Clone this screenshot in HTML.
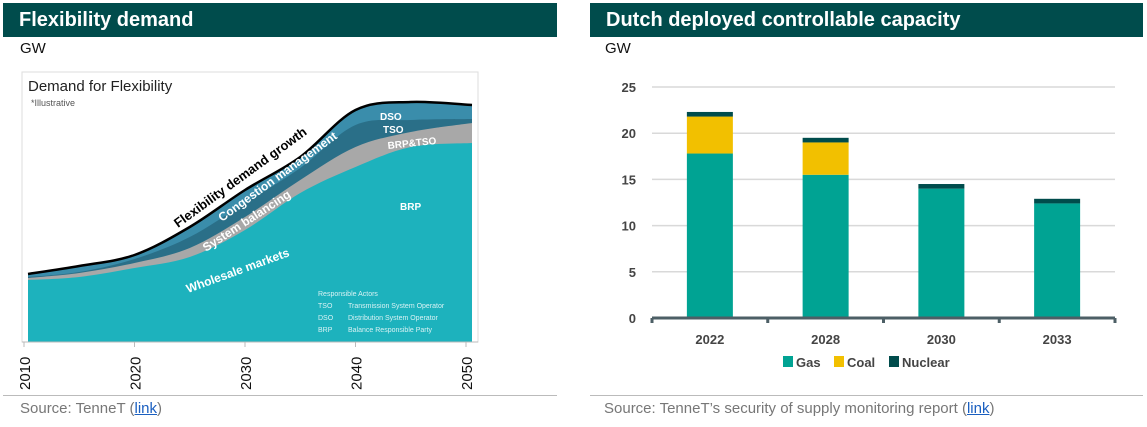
<!DOCTYPE html>
<html><head><meta charset="utf-8">
<style>
body{margin:0;width:1147px;height:427px;background:#fff;overflow:hidden;font-family:"Liberation Sans",sans-serif;position:relative}
.hdr{position:absolute;top:3px;height:34px;background:#004c4c;color:#fff;font-weight:bold;font-size:20px;line-height:34px;padding-left:16px;box-sizing:border-box}
.gw{position:absolute;top:40px;font-size:15px;color:#111}
.rule{position:absolute;top:395px;height:1px;background:#bbb}
.src{position:absolute;top:400px;font-size:15px;color:#777}
.src a{color:#1a5fc0;text-decoration:underline}
svg{position:absolute;left:0;top:0}
</style></head><body>
<div class="hdr" style="left:3px;width:554px">Flexibility demand</div>
<div class="hdr" style="left:590px;width:553px">Dutch deployed controllable capacity</div>
<div class="gw" style="left:20px">GW</div>
<div class="gw" style="left:605px">GW</div>
<div class="rule" style="left:3px;width:554px"></div>
<div class="rule" style="left:590px;width:553px"></div>
<div class="src" style="left:20px">Source: TenneT (<a>link</a>)</div>
<div class="src" style="left:604px">Source: TenneT’s security of supply monitoring report (<a>link</a>)</div>

<svg id="left" width="590" height="395">
<rect x="22" y="72" width="456" height="270" fill="#fff" stroke="#ddd"/>
<text x="28" y="91" font-size="15" fill="#222">Demand for Flexibility</text>
<text x="31" y="106" font-size="9" fill="#555">*Illustrative</text>
<g id="areas"></g>
<g id="xt"></g>
<text transform="translate(178,228) rotate(-36)" font-size="13" font-weight="bold" fill="#000">Flexibility demand growth</text>
<text transform="translate(222,222) rotate(-36)" font-size="12" font-weight="bold" fill="#fff">Congestion management</text>
<text transform="translate(206,252) rotate(-33)" font-size="12" font-weight="bold" fill="#fff">System balancing</text>
<text transform="translate(188,293) rotate(-20)" font-size="12" font-weight="bold" fill="#fff">Wholesale markets</text>
<text x="380" y="120" font-size="10" font-weight="bold" fill="#fff">DSO</text>
<text x="383" y="133" font-size="10" font-weight="bold" fill="#fff">TSO</text>
<text x="388" y="149" font-size="10" font-weight="bold" fill="#fff" transform="rotate(-6 388 149)">BRP&amp;TSO</text>
<text x="400" y="210" font-size="10" font-weight="bold" fill="#fff">BRP</text>
<g font-size="7" fill="#d8f2f4">
<text x="318" y="296">Responsible Actors</text>
<text x="318" y="308">TSO</text><text x="348" y="308">Transmission System Operator</text>
<text x="318" y="320">DSO</text><text x="348" y="320">Distribution System Operator</text>
<text x="318" y="332">BRP</text><text x="348" y="332">Balance Responsible Party</text>
</g>
</svg>

<svg id="right" width="1147" height="395" style="left:0">
<g id="grid"></g><g id="bars"></g><g id="axis"></g>
<g id="legend" font-size="13" font-weight="bold" fill="#444"></g>
</svg>

<script>
// ---- Left chart data (illustrative units) ----
const years=[2010,2015,2020,2025,2030,2035,2040,2045,2050];
const brp=[62,65,74,85,112,149,175,195,199];
const brpTso=[2,4,5,9,13,13,20,15,20];
const tso=[1,1,4,11,14,12,22,12,4];
const dso=[3,6,4,10,13,11,15,18,14];
const xTicks=[2010,2020,2030,2040,2050];

const NS='http://www.w3.org/2000/svg';
function mk(tag,attrs,parent){const e=document.createElementNS(NS,tag);for(const k in attrs)e.setAttribute(k,attrs[k]);parent.appendChild(e);return e;}
const lx=y=>24+(y-2010)/40*442;
const ly=v=>342-v;
function smooth(pts){let d='M'+pts[0][0]+','+pts[0][1];for(let i=0;i<pts.length-1;i++){const p0=pts[i-1]||pts[i],p1=pts[i],p2=pts[i+1],p3=pts[i+2]||p2;d+=' C'+(p1[0]+(p2[0]-p0[0])/6)+','+(p1[1]+(p2[1]-p0[1])/6)+' '+(p2[0]-(p3[0]-p1[0])/6)+','+(p2[1]-(p3[1]-p1[1])/6)+' '+p2[0]+','+p2[1];}return d;}
const ag=document.getElementById('areas');
const layers=[[brp,'#1db2bd','area-brp'],[brpTso,'#a8a8a8','area-brp-tso'],[tso,'#2a6f88','area-tso'],[dso,'#3a8dab','area-dso']];
const cum=years.map(()=>0);
const tops=[];
layers.forEach(([arr])=>{arr.forEach((v,i)=>cum[i]+=v);tops.push(cum.slice());});
for(let k=layers.length-1;k>=0;k--){
  const pts=years.map((y,i)=>[lx(y)+ (i==0?4:i==years.length-1?6:0),ly(tops[k][i])]);
  const p=mk('path',{d:smooth(pts)+' L'+pts[pts.length-1][0]+',342 L'+pts[0][0]+',342 Z',fill:layers[k][1]},ag);
  
  
}
{const pts=years.map((y,i)=>[lx(y)+(i==0?4:i==years.length-1?6:0),ly(tops[3][i])]);
const l=mk('path',{d:smooth(pts),fill:'none',stroke:'#000','stroke-width':2.5},ag);

}
const xt=document.getElementById('xt');
mk('line',{x1:22,y1:342,x2:478,y2:342,stroke:'#bbb'},xt);
xTicks.forEach(y=>{
  const x=lx(y);
  mk('line',{x1:x,y1:342,x2:x,y2:347,stroke:'#bbb'},xt);
  const t=mk('text',{transform:'translate('+(x+6)+',390) rotate(-90)','font-size':15,fill:'#111'},xt);
  t.textContent=y;
  
  
});

// ---- Right chart data ----
const cats=['2022','2028','2030','2033'];
const gas=[17.8,15.5,14.0,12.4];
const coal=[4.0,3.5,0,0];
const nuclear=[0.5,0.5,0.5,0.5];
const yTicks=[0,5,10,15,20,25];

const x0=652,x1=1115,band=(x1-x0)/cats.length,bw=46;
const ry=v=>318-v*(231/25);
const grid=document.getElementById('grid');
yTicks.forEach(v=>{
  if(v>0){const g=mk('line',{x1:x0,x2:x1,y1:ry(v),y2:ry(v),stroke:'#d9d9d9','stroke-width':1.5},grid);
  
  }
  const t=mk('text',{x:636,y:ry(v)+5,'text-anchor':'end','font-size':13,'font-weight':'bold',fill:'#444'},grid);
  t.textContent=v;
  
  
});
const bars=document.getElementById('bars');
const series=[[gas,'#00a393','gas'],[coal,'#f2c000','coal'],[nuclear,'#004c4c','nuclear']];
cats.forEach((c,i)=>{
  const cx=x0+band*(i+0.5);let base=0;
  series.forEach(([arr,col,nm])=>{
    const v=arr[i];if(v<=0)return;
    const r=mk('rect',{x:cx-bw/2,y:ry(base+v),width:bw,height:ry(base)-ry(base+v),fill:col},bars);
    
    
    base+=v;
  });
  const t=mk('text',{x:cx,y:344,'text-anchor':'middle','font-size':13,'font-weight':'bold',fill:'#444'},bars);
  t.textContent=c;
  
  
});
const ax=document.getElementById('axis');
const al=mk('line',{x1:x0,x2:x1,y1:318,y2:318,stroke:'#4d5f66','stroke-width':3},ax);


for(let i=0;i<=cats.length;i++){const x=x0+band*i;mk('line',{x1:x,x2:x,y1:318,y2:323,stroke:'#4d5f66','stroke-width':3},ax);}
const lg=document.getElementById('legend');
[['Gas','#00a393',783],['Coal','#f2c000',834],['Nuclear','#004c4c',889]].forEach(([n,c,x])=>{
  const r=mk('rect',{x:x,y:356,width:10,height:11,fill:c},lg);
  
  
  const t=mk('text',{x:x+13,y:367},lg);
  t.textContent=n;
  
  
});
</script>
</body></html>
